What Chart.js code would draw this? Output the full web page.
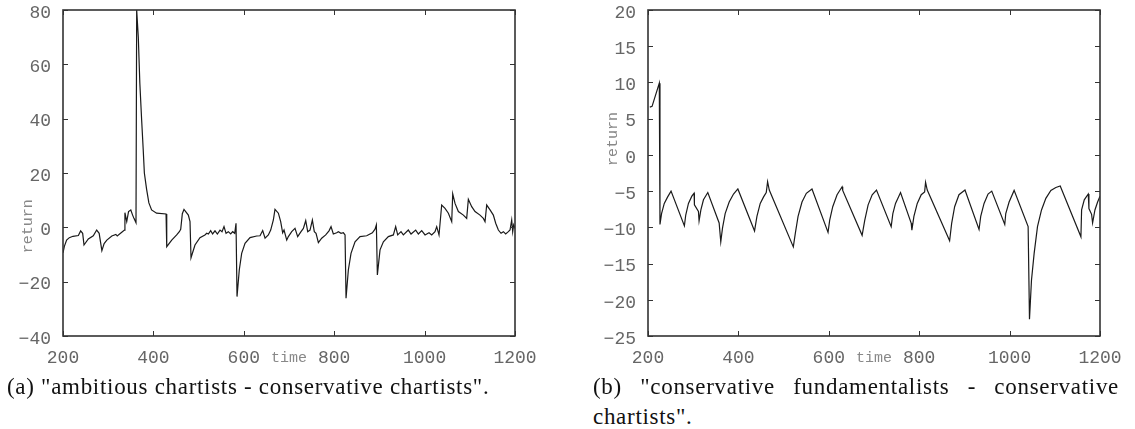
<!DOCTYPE html>
<html>
<head>
<meta charset="utf-8">
<script src="https://cdn.jsdelivr.net/npm/chart.js@4.4.0/dist/chart.umd.min.js"></script>
<style>
  body { margin: 0; background: #fff; width: 1135px; height: 429px; position: relative; overflow: hidden; }
  canvas { position: absolute; top: 0; }
  .cap { position: absolute; font-family: "Liberation Serif", serif; font-size: 23px; letter-spacing: 0.7px; line-height: 28px; color: #111; white-space: nowrap; }
</style>
</head>
<body>
<canvas id="chartA" width="545" height="375" style="left:0"></canvas>
<canvas id="chartB" width="545" height="375" style="left:585px"></canvas>
<div class="cap" style="left:7px;top:373px">(a) "ambitious chartists - conservative chartists".</div>
<div class="cap" style="left:593px;top:373px;width:526px;white-space:normal;text-align:justify;text-align-last:justify">(b) "conservative fundamentalists - conservative</div>
<div class="cap" style="left:593px;top:403px">chartists".</div>
<script>
// (a) ambitious chartists - conservative chartists
const timeA = [200, 203, 208, 214, 222, 234, 239, 243.5, 246.5, 256, 267, 274.5, 280, 286, 291, 297, 308, 317, 320, 330,
  336, 337, 341, 345, 350, 354, 357, 361.5, 363, 366.6, 370, 374, 377.5, 380, 385, 390, 396, 407, 428, 429.5,
  440.5, 451.5, 457.4, 460.4, 464, 467.7, 477.3, 481, 483.2, 492, 503, 514, 518, 521.6, 526.7, 531, 536.3, 541.5, 547.4, 551.8,
  556.2, 560.7, 565.8, 571, 575.4, 579.9, 582.8, 585, 590, 595.3, 602.7, 613.8, 628.5, 635.9, 641.8, 647, 654.3, 659.5, 665.4, 669,
  676.5, 681.6, 686, 689, 695, 698.6, 706, 713.3, 719.2, 726.6, 731.8, 737, 741.4, 746.5, 751.7, 756, 759.8, 765, 772.3, 781.2,
  788.5, 793, 798.1, 805.5, 809.2, 815.1, 820.3, 824, 826.2, 831.3, 837.2, 846.1, 857.1, 871.9, 884.4, 890.3, 893.3, 895.5, 901.4, 908.8,
  919.8, 930.9, 936, 940.5, 947.8, 953, 964, 970, 980.3, 986.2, 993.6, 1001, 1009.8, 1015.7, 1023, 1026.8, 1031.9, 1037.8, 1045.2, 1052.6,
  1060, 1062.2, 1067.3, 1074.7, 1085.8, 1093.1, 1096.8, 1104.2, 1111.6, 1122.6, 1130, 1133.7, 1137.4, 1144.8, 1152.1, 1157.3, 1163.2, 1169.1, 1174.3, 1179.4,
  1185.3, 1189, 1192.7, 1194.9, 1197.1, 1200];
const returnA = [-9.4, -7.0, -4.7, -3.8, -3.3, -3.0, -1.3, -2.2, -6.5, -4.3, -3.1, -1.0, -2.2, -8.6, -6.0, -4.7, -3.2, -2.6, -3.2, -1.8,
  -1.0, 5.4, 2.1, 5.8, 6.4, 4.5, 3.3, 1.7, 80, 70, 53, 39.5, 28.5, 20, 14, 9, 6.4, 5.2, 4.9, -7.1,
  -4.7, -2.8, -1.6, -0.7, 5, 6.6, 4.5, 2.1, -11.2, -6.5, -3.8, -2.8, -2.2, -2.45, -1.2, -2.45, -1.3, -2.45, -1.0, -1.6,
  0.25, -2.2, -1.6, -2.45, -1.6, -2.2, 1.5, -25.5, -15.7, -9.6, -5.9, -3.8, -3.2, -3.1, -1.2, -4.0, -2.8, -1.0, 2.7, 6.6,
  5.2, 2.1, -2.0, -1.0, -4.7, -3.4, -1.6, -0.4, -3.4, -1.6, -0.4, 2.46, -1.6, -1.0, 2.7, -1.6, -2.2, -5.6, -4.0, -2.8,
  -1.3, 0.25, -2.45, -2.0, -1.6, -2.2, -2.0, -2.8, -26.1, -15.7, -9.6, -5.3, -3.4, -3.1, -2.0, -0.7, 0.9, -17.5, -8.3, -5.3,
  -3.4, -2.8, 0.25, -2.8, -1.6, -2.8, -1.0, -2.45, -1.0, -2.45, -1.2, -2.8, -2.0, -2.8, -1.6, 0.25, -2.8, 8.2, 7.0, 5.2,
  2.1, 12.3, 8.8, 5.8, 4.5, 3.3, 10.3, 7.6, 5.8, 4.5, 3.3, 2.1, 8.2, 6.4, 4.5, 1.5, -1.0, -2.2, -1.6, -2.45,
  -1.6, -1.0, 2.7, -1.6, 0.9, -0.4];

// (b) conservative fundamentalists - conservative chartists
const timeB = [204, 209, 225, 226.5, 230, 236, 243.5, 251, 280.5, 283.5, 289.5, 297, 302, 302.7, 311.6, 313, 317, 322.7, 332.3, 357.4,
  361, 364.8, 370.7, 379.6, 389.2, 398.8, 435.7, 441, 448.3, 455.7, 461.6, 464.6, 468.3, 521.5, 526, 532, 540.7, 550.3, 562.8, 598.3,
  602, 608.7, 618.3, 629.4, 630.8, 673.7, 679.6, 687, 696, 705.5, 738, 741.7, 747.6, 758.7, 782.4, 783.8, 788.3, 795.7, 804.5, 812,
  814.1, 817.8, 867.3, 871.8, 878.4, 888, 901.3, 932.4, 936.1, 943.5, 952.3, 960.5, 989.3, 991.5, 998.9, 1010, 1041, 1044, 1048.4, 1054.3,
  1061.7, 1070.6, 1080.2, 1091.3, 1102.3, 1112, 1157.8, 1159.3, 1165.2, 1174, 1175.5, 1181.4, 1183.6, 1188.8, 1194.7, 1200];
const returnB = [6.6, 6.7, 9.9, -9.6, -8.1, -6.7, -5.8, -5.0, -9.8, -8.3, -6.7, -5.7, -5.3, -6.9, -7.8, -9.1, -7.6, -6.2, -5.2, -9.4,
  -12.0, -10.1, -8.1, -6.5, -5.4, -4.7, -10.5, -8.5, -6.7, -5.8, -5.2, -3.7, -4.85, -12.7, -10.8, -8.5, -6.5, -5.3, -4.7, -10.7,
  -9.0, -7.15, -5.5, -4.4, -4.9, -11.1, -9.0, -6.9, -5.5, -4.85, -9.9, -8.1, -6.7, -5.2, -9.45, -10.4, -8.5, -6.7, -5.5, -5.1,
  -3.8, -4.85, -11.85, -9.45, -7.15, -5.5, -4.85, -10.3, -8.5, -6.7, -5.4, -5.0, -9.6, -8.1, -6.5, -4.9, -9.9, -22.7, -17.3, -13.6,
  -9.9, -7.6, -6.0, -4.9, -4.5, -4.3, -11.3, -7.6, -6.2, -5.4, -7.4, -8.2, -9.4, -7.6, -6.5, -5.7];

// Frame around the plot, inward tick marks on all four sides, and the small axis titles
const frameTicks = {
  id: 'frameTicks',
  afterDraw(chart, args, opts) {
    const { ctx, chartArea: a, scales: { x, y } } = chart;
    const len = 5;
    ctx.save();
    ctx.strokeStyle = '#333';
    ctx.lineWidth = 1;
    ctx.beginPath();
    for (const t of x.ticks) {
      const px = Math.round(x.getPixelForValue(t.value)) + 0.5;
      ctx.moveTo(px, a.bottom); ctx.lineTo(px, a.bottom - len);
      ctx.moveTo(px, a.top); ctx.lineTo(px, a.top + len);
    }
    for (const t of y.ticks) {
      const py = Math.round(y.getPixelForValue(t.value)) + 0.5;
      ctx.moveTo(a.left, py); ctx.lineTo(a.left + len, py);
      ctx.moveTo(a.right, py); ctx.lineTo(a.right - len, py);
    }
    ctx.stroke();
    ctx.lineWidth = 1.6;
    ctx.strokeRect(a.left, a.top, a.right - a.left, a.bottom - a.top);

    ctx.font = '15px "Liberation Mono", monospace';
    ctx.fillStyle = '#888';
    ctx.textAlign = 'center';
    ctx.textBaseline = 'alphabetic';
    ctx.fillText(opts.xTitle, (a.left + a.right) / 2, a.bottom + 25.5);
    ctx.translate(a.left - 31.5, a.top + (a.bottom - a.top) * opts.yTitleAt);
    ctx.rotate(-Math.PI / 2);
    ctx.fillText(opts.yTitle, 0, 0);
    ctx.restore();
  },
};

Chart.register(frameTicks);

const tickFont = { family: '"Liberation Mono", monospace', size: 18, lineHeight: 1 };
const tickColor = '#666';
const minus = v => String(v).replace('-', '\u2212');

function makeChart(id, times, returns, yMin, yMax, yStep, yTitleAt) {
  return new Chart(document.getElementById(id), {
    type: 'line',
    data: {
      datasets: [{
        data: times.map((t, i) => ({ x: t, y: returns[i] })),
        borderColor: '#1a1a1a',
        borderWidth: 1.2,
        pointRadius: 0,
        tension: 0,
        fill: false,
      }],
    },
    options: {
      responsive: false,
      animation: false,
      events: [],
      layout: { padding: { top: 10, right: 30, left: 0, bottom: 0 } },
      plugins: {
        legend: { display: false },
        tooltip: { enabled: false },
        frameTicks: { xTitle: 'time', yTitle: 'return', yTitleAt },
      },
      scales: {
        x: {
          type: 'linear', min: 200, max: 1200,
          grid: { display: false, drawTicks: false },
          border: { display: false },
          ticks: { stepSize: 200, font: tickFont, color: tickColor, padding: 13, maxRotation: 0, callback: v => String(v) },
          afterFit(s) { s.height = 39; s.paddingLeft = 0; s.paddingRight = 0; },
        },
        y: {
          min: yMin, max: yMax,
          grid: { display: false, drawTicks: false },
          border: { display: false },
          ticks: { stepSize: yStep, font: tickFont, color: tickColor, padding: 12, labelOffset: 3, callback: minus },
          afterFit(s) { s.width = 63; s.paddingTop = 0; s.paddingBottom = 0; },
        },
      },
    },
  });
}

makeChart('chartA', timeA, returnA, -40, 80, 20, 0.663);
makeChart('chartB', timeB, returnB, -25, 20, 5, 0.396);
</script>
</body>
</html>
